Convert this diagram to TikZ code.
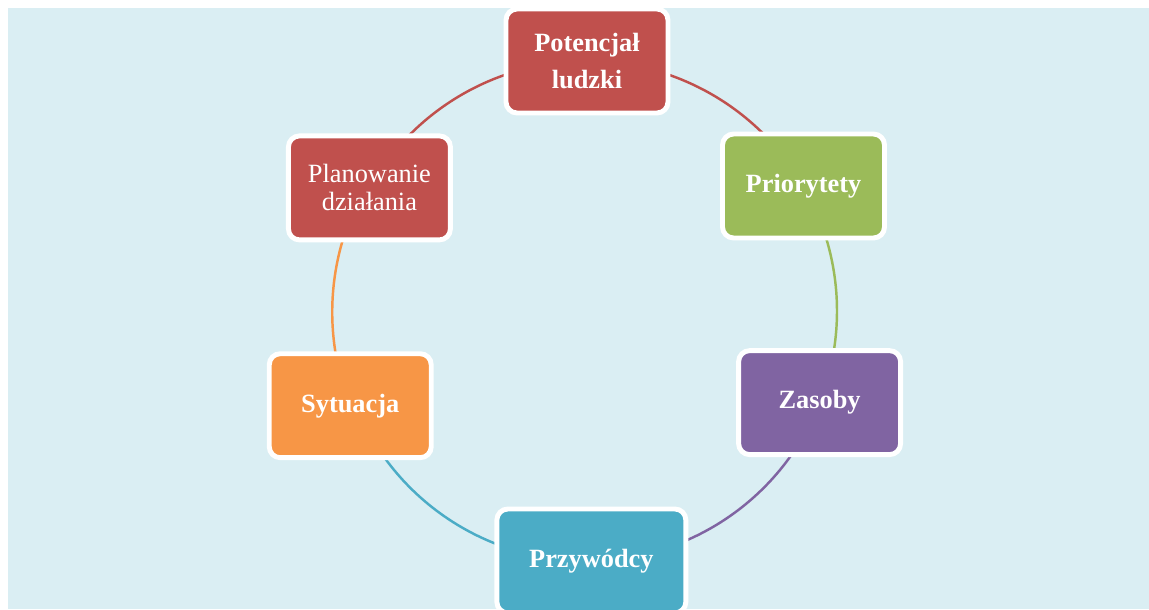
\documentclass[tikz,border=0pt]{standalone}
\usepackage{fontspec}
\setmainfont{Liberation Serif}
\usetikzlibrary{backgrounds}
\definecolor{bgblue}{HTML}{DAEEF3}
\definecolor{cred}{HTML}{C0504D}
\definecolor{cgreen}{HTML}{9BBB59}
\definecolor{cpurple}{HTML}{8064A2}
\definecolor{caqua}{HTML}{4BACC6}
\definecolor{corange}{HTML}{F79646}
\begin{document}
\begin{tikzpicture}[x=0.02cm,y=0.02cm,
        box/.style={draw=white,line width=2.8pt,rounded corners=0.22cm,
            minimum width=3.24cm,minimum height=2.08cm,text=white,align=center,
            font=\fontsize{15}{21}\selectfont\bfseries},
        ring/.style={line width=1.4pt}]
            \useasboundingbox (0,0) rectangle (1149,-609);
            \coordinate (c) at (587,-311);
            \node[box,fill=cred] (pot) at ([shift={(90:250)}]c) {Potencjał\\ludzki};
            \node[box,fill=cgreen] (pri) at ([shift={(30:250)}]c) {Priorytety};
            \node[box,fill=cpurple] (zas) at ([shift={(-21.5:250)}]c) {Zasoby};
            \node[box,fill=caqua,minimum width=3.78cm] (prz) at ([shift={(-89:250)}]c) {Przywódcy};
            \node[box,fill=corange] (syt) at ([shift={(-158.2:255)}]c) {Sytuacja};
            \node[box,fill=cred,font=\fontsize{15}{16}\selectfont] (pla) at ([shift={(150.5:250)}]c) {Planowanie\\działania};
            \begin{pgfonlayer}{background}
            \fill[bgblue] (8,-8) rectangle (1149,-609);
            \draw[ring,cred] (pot.center) arc[start angle=90,end angle=30,radius=250];
            \draw[ring,cgreen] (pri.center) arc[start angle=30,end angle=-21.5,radius=250];
            \draw[ring,cpurple] (zas.center) arc[start angle=-21.5,end angle=-89,radius=250];
            \draw[ring,caqua] (prz.center) arc[start angle=-89,end angle=-158,radius=250];
            \draw[ring,corange] (syt.center) arc[start angle=-158.2,end angle=-209.5,radius=252];
            \draw[ring,cred] (pla.center) arc[start angle=150.5,end angle=90,radius=250];
            \end{pgfonlayer}
        \end{tikzpicture}
\end{document}
